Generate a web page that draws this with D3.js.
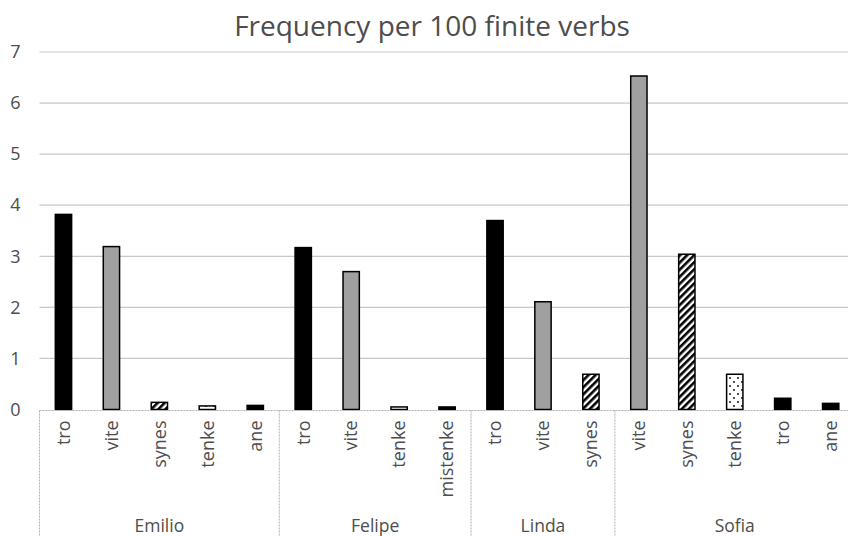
<!DOCTYPE html>
<html><head><meta charset="utf-8">
<script src="https://cdn.jsdelivr.net/npm/d3@7"></script>
<style>body{margin:0;background:#fff}svg{display:block;font-family:"Open Sans",sans-serif}</style>
</head><body><svg id="c" width="848" height="536"></svg>
<script>
const speakers = ["Emilio","Felipe","Linda","Sofia"];
const verbs = [
  ["tro","vite","synes","tenke","ane"],
  ["tro","vite","tenke","mistenke"],
  ["tro","vite","synes"],
  ["vite","synes","tenke","tro","ane"]
];
const values = [
  [3.82,3.19,0.14,0.07,0.08],
  [3.17,2.70,0.05,0.05],
  [3.70,2.11,0.69],
  [6.53,3.04,0.69,0.22,0.12]
];
const yTicks = [0,1,2,3,4,5,6,7];
const title = "Frequency per 100 finite verbs";

(function(){
const rows = [];
speakers.forEach((s,i)=>verbs[i].forEach((v,j)=>rows.push({key:s+"|"+v, speaker:s, verb:v, value:values[i][j]})));

const svg = d3.select("#c");
const txt = "#4d4d4d";
const pLeft = 39.5, pRight = pLeft + 17*47.95, pTop = 52, pBottom = 409.5;
const x = d3.scaleBand().domain(rows.map(d=>d.key)).range([pLeft,pRight]).paddingInner(0.66).paddingOuter(0.33);
const y = d3.scaleLinear().domain([0,7]).range([pBottom,pTop]);

const defs = svg.append("defs");
const hatch = defs.append("pattern").attr("id","hatch").attr("patternUnits","userSpaceOnUse")
  .attr("width",5).attr("height",5).attr("patternTransform","rotate(45)");
hatch.append("rect").attr("width",5).attr("height",5).attr("fill","#fff");
hatch.append("rect").attr("width",2.6).attr("height",5).attr("fill","#000");
const dots = defs.append("pattern").attr("id","dots").attr("patternUnits","userSpaceOnUse")
  .attr("width",8).attr("height",8);
dots.append("rect").attr("width",8).attr("height",8).attr("fill","#fff");
dots.append("circle").attr("cx",2).attr("cy",2).attr("r",0.9).attr("fill","#000");
dots.append("circle").attr("cx",6).attr("cy",6).attr("r",0.9).attr("fill","#000");

const fillFor = {tro:"#000", vite:"#a0a0a0", synes:"url(#hatch)", tenke:"url(#dots)", ane:"#000", mistenke:"#000"};

svg.append("g").selectAll("line").data(yTicks.filter(t=>t>0)).join("line")
  .attr("x1",pLeft).attr("x2",848).attr("y1",d=>y(d)).attr("y2",d=>y(d))
  .attr("stroke","#c8c8c8").attr("stroke-width",1.2);

const yAxis = d3.axisLeft(y).tickValues(yTicks).tickFormat(d3.format("d")).tickSize(0).tickPadding(19);
const ya = svg.append("g").attr("transform",`translate(${pLeft},0)`).call(yAxis);
ya.select(".domain").remove();
ya.selectAll("text").attr("font-size",18).attr("fill",txt).attr("font-family","Open Sans");

svg.append("g").selectAll("rect").data(rows).join("rect")
  .attr("x",d=>x(d.key)).attr("width",x.bandwidth())
  .attr("y",d=>y(d.value)).attr("height",d=>y(0)-y(d.value))
  .attr("fill",d=>fillFor[d.verb]).attr("stroke","#000").attr("stroke-width",1.5);

const g = svg.append("g").attr("stroke","#b0b0b0").attr("stroke-width",1).attr("stroke-dasharray","2,1");
g.append("line").attr("x1",pLeft).attr("x2",848).attr("y1",pBottom+1).attr("y2",pBottom+1);
const step = x.step();
let idx = 0;
const bounds = [0];
verbs.forEach(v=>{idx+=v.length; bounds.push(idx);});
bounds.forEach(b=>{
  const bx = pLeft + b*step;
  if (bx<848) g.append("line").attr("x1",bx).attr("x2",bx).attr("y1",pBottom+1).attr("y2",536);
});

svg.append("g").selectAll("text").data(rows).join("text")
  .attr("transform",d=>`translate(${x(d.key)+x.bandwidth()/2},${pBottom+11}) rotate(-90)`)
  .attr("text-anchor","end").attr("dy","0.35em")
  .attr("font-size",18).attr("fill",txt).text(d=>d.verb);

speakers.forEach((s,i)=>{
  const cx = pLeft + (bounds[i]+bounds[i+1])/2*step;
  svg.append("text").attr("x",cx).attr("y",532).attr("text-anchor","middle")
    .attr("font-size",17.5).attr("fill",txt).text(s);
});

svg.append("text").attr("x",432).attr("y",36).attr("text-anchor","middle")
  .attr("font-size",28).attr("fill",txt).text(title);
})();
</script></body></html>
